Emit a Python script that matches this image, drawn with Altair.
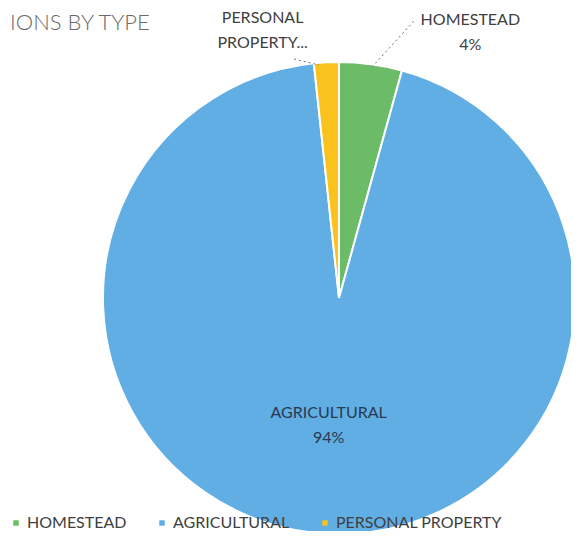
import altair as alt
import pandas as pd

categories = ["HOMESTEAD", "AGRICULTURAL", "PERSONAL PROPERTY"]
values = [4.3, 94.0, 1.7]
slice_labels = ["HOMESTEAD\n4%", "AGRICULTURAL\n94%", "PERSONAL\nPROPERTY..."]
colors = ["#6cbc67", "#60aee3", "#f9c21c"]

df = pd.DataFrame({
    "category": categories,
    "value": values,
    "label": slice_labels,
    "order": list(range(len(categories))),
})
total = float(sum(values))

CX, CY, R = 331, 290, 236
FONT = "Lato"
theta_scale = alt.Scale(domain=[0, total])

base = alt.Chart(df).transform_window(
    cum="sum(value)", sort=[alt.SortField("order")], frame=[None, 0]
).transform_calculate(
    start="datum.cum - datum.value",
    mid="datum.cum - datum.value / 2",
).encode(
    x=alt.value(CX),
    y=alt.value(CY),
)

pie = base.mark_arc(stroke="white", strokeWidth=2).encode(
    theta=alt.Theta("start:Q", scale=theta_scale),
    theta2="cum:Q",
    color=alt.Color(
        "category:N",
        scale=alt.Scale(domain=categories, range=colors),
        legend=alt.Legend(
            title=None,
            orient="none",
            legendX=0,
            legendY=507,
            direction="horizontal",
            symbolType="square",
            symbolSize=30,
            symbolStrokeWidth=0,
            labelFont=FONT,
            labelFontSize=16,
            labelColor="#404040",
            labelOffset=3,
            labelLimit=300,
            columnPadding=27,
        ),
    ),
    radius=alt.value(R),
)

def slice_text(cat, r, dx, dy, color):
    return base.transform_filter(alt.datum.category == cat).mark_text(
        lineBreak="\n", font=FONT, fontSize=16, color=color,
        align="center", baseline="middle", dx=dx, dy=dy, lineHeight=25,
    ).encode(
        theta=alt.Theta("mid:Q", scale=theta_scale),
        text="label:N",
        radius=alt.value(r),
    )

t_home = slice_text("HOMESTEAD", 270, 95, -10, "#404040")
t_agri = slice_text("AGRICULTURAL", 127, 0, -12, "#2b3950")
t_pers = slice_text("PERSONAL PROPERTY", 270, -62, -10, "#404040")

leader = pd.DataFrame({"k": ["home", "pers"]})
lead_home = alt.Chart(leader).transform_filter(alt.datum.k == "home").mark_rule(
    strokeDash=[2, 3], color="#707070", strokeWidth=1
).encode(x=alt.value(364), y=alt.value(59), x2=alt.value(406), y2=alt.value(13))
lead_pers = alt.Chart(leader).transform_filter(alt.datum.k == "pers").mark_rule(
    strokeDash=[2, 3], color="#707070", strokeWidth=1
).encode(x=alt.value(286), y=alt.value(51), x2=alt.value(311), y2=alt.value(57))

title = alt.Chart(leader).transform_filter(alt.datum.k == "home").mark_text(
    text="IONS BY TYPE", font=FONT, fontSize=22, fontWeight=300, color="#6a6a6a",
    align="left", baseline="alphabetic",
).encode(x=alt.value(2), y=alt.value(22))

chart = alt.layer(pie, lead_home, lead_pers, t_home, t_agri, t_pers, title).properties(
    width=563, height=523, autosize=alt.AutoSizeParams(type="none"), padding=0,
).configure_view(stroke=None)

chart.save("out.html", embed_options={"renderer": "svg", "actions": False})
